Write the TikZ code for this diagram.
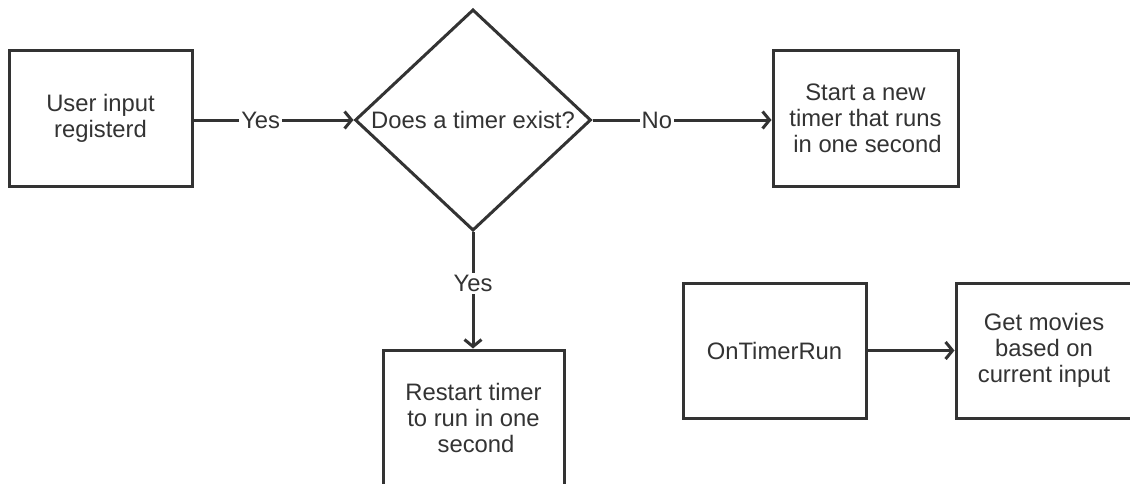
\documentclass[tikz,border=0pt]{standalone}
\usepackage{fontspec}
\setmainfont{Liberation Sans}
\usetikzlibrary{arrows.meta,shapes.geometric}
\definecolor{ink}{HTML}{333333}
\begin{document}
\begin{tikzpicture}[x=1pt,y=-1pt,
  every node/.style={font=\fontsize{23.8}{26}\selectfont, text=ink},
  procbox/.style={draw=ink, line width=3pt, fill=white, align=center, inner sep=0pt},
  flow/.style={draw=ink, line width=3pt, -{Straight Barb[length=7pt,width=17pt,line width=3pt]}},
  edgelabel/.style={fill=white, inner sep=2pt}]
\useasboundingbox (0,0) rectangle (1130,483);
\clip (0,0) rectangle (1130,483);

% process boxes
\node[procbox, minimum width=183pt, minimum height=136pt] (input) at (100.5,118) {User input\\registerd};
\node[procbox, minimum width=185pt, minimum height=136pt] (start) at (865.5,118) {Start a new\\timer that runs\\\hspace{4pt}in one second};
\node[procbox, minimum width=181pt, minimum height=136pt] (restart) at (473.5,418) {Restart timer\\to run in one\\\hspace{5pt}second};
\node[procbox, minimum width=183pt, minimum height=135pt] (ontimer) at (774.5,350.5) {OnTimerRun};
\node[procbox, minimum width=176pt, minimum height=135pt] (movies) at (1044,350.5) {Get movies\\based on\\current input};

% decision
\node[diamond, draw=ink, line width=3pt, fill=white, minimum width=236pt, minimum height=217pt, inner sep=0pt] (exists) at (473,120) {Does a timer exist?};

% connectors
\draw[flow] (input.east |- exists.west) -- node[edgelabel, pos=0.42] {Yes} (exists.west);
\draw[flow] (exists.east) -- node[edgelabel, pos=0.36] {No} (start.west |- exists.east);
\draw[flow] (exists.south) -- node[edgelabel, pos=0.44] {Yes} (restart.north -| exists.south);
\draw[flow] (ontimer.east) -- (movies.west);
\end{tikzpicture}
\end{document}
